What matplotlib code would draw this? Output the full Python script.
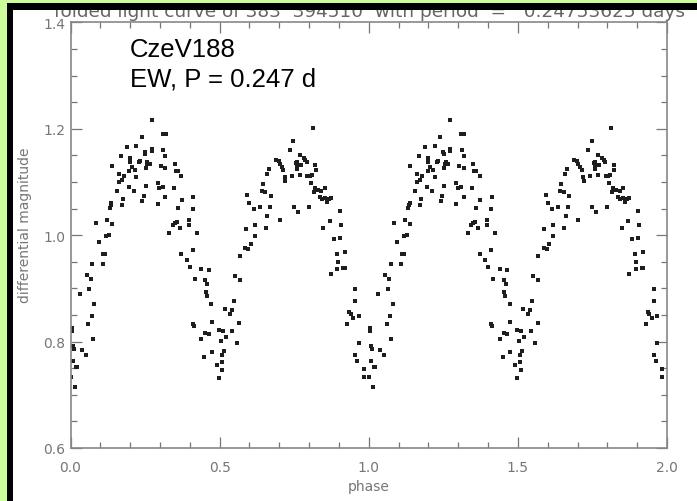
import numpy as np
from matplotlib import pyplot as plt
from matplotlib.patches import Rectangle

# folded light curve (one cycle, phase 0..1), plotted twice
phase = [0.032, 0.063, 0.056, 0.069, 0.073, 0.086, 0.096, 0.108, 0.110, 0.117,
         0.119, 0.128, 0.123, 0.139, 0.132, 0.135, 0.137, 0.139, 0.155, 0.163,
         0.162, 0.169, 0.173, 0.175, 0.173, 0.180, 0.189, 0.195, 0.197, 0.200,
         0.200, 0.206, 0.213, 0.216, 0.221, 0.221, 0.229, 0.233, 0.240, 0.241,
         0.246, 0.249, 0.251, 0.253, 0.253, 0.255, 0.258, 0.267, 0.273, 0.273,
         0.272, 0.292, 0.293, 0.298, 0.304, 0.309, 0.320, 0.311, 0.318, 0.309,
         0.318, 0.318, 0.331, 0.347, 0.351, 0.354, 0.359, 0.361, 0.343, 0.349,
         0.356, 0.367, 0.372, 0.372, 0.374, 0.390, 0.398, 0.398, 0.410, 0.410,
         0.412, 0.423, 0.401, 0.417, 0.439, 0.452, 0.459, 0.454, 0.457, 0.465,
         0.568, 0.552, 0.568, 0.586, 0.596, 0.588, 0.604, 0.618, 0.619, 0.593,
         0.600, 0.615, 0.635,
         0.080, 0.071, 0.060, 0.075, 0.039, 0.052, 0.012, 0.004, 0.005, 0.007,
         0.009, 0.017, 0.021, 0.000, 0.014,
         0.410, 0.414, 0.472, 0.474, 0.452, 0.465, 0.439, 0.449, 0.475, 0.498,
         0.510, 0.504, 0.521, 0.517, 0.534, 0.540, 0.548, 0.543, 0.566, 0.557,
         0.515, 0.507, 0.490, 0.508, 0.509, 0.497,
         0.655, 0.660, 0.669, 0.671, 0.642, 0.653, 0.646, 0.658, 0.665, 0.702,
         0.689, 0.698, 0.702, 0.709, 0.714, 0.718, 0.720, 0.736, 0.747, 0.743,
         0.749, 0.763, 0.756, 0.758, 0.758, 0.760, 0.769, 0.772, 0.769, 0.783,
         0.787, 0.792, 0.799, 0.794, 0.803, 0.810, 0.807, 0.813, 0.816, 0.819,
         0.821, 0.823, 0.830, 0.841, 0.852, 0.837, 0.843, 0.854, 0.859, 0.866,
         0.874, 0.848, 0.870, 0.883, 0.904, 0.906, 0.904, 0.893, 0.897, 0.919,
         0.895, 0.915, 0.921, 0.872, 0.955, 0.955, 0.935, 0.940, 0.948, 0.966,
         0.928, 0.968, 0.955, 0.962, 0.984, 0.984]
mag = [0.889, 0.898, 0.925, 0.918, 0.946, 1.023, 0.988, 0.945, 0.965, 0.965,
       0.998, 1.000, 1.029, 1.022, 1.051, 1.057, 1.061, 1.130, 1.084, 1.101,
       1.116, 1.149, 1.104, 1.068, 1.057, 1.112, 1.166, 1.091, 1.120, 1.137,
       1.145, 1.129, 1.083, 1.123, 1.168, 1.110, 1.138, 1.139, 1.185, 1.064,
       1.073, 1.156, 1.153, 1.092, 1.126, 1.134, 1.137, 1.134, 1.158, 1.163,
       1.217, 1.059, 1.098, 1.088, 1.131, 1.190, 1.191, 1.160, 1.149, 1.090,
       1.127, 1.071, 1.005, 1.088, 1.134, 1.121, 1.121, 1.051, 1.020, 1.023,
       1.025, 1.013, 1.111, 0.965, 1.066, 0.954, 1.019, 1.028, 0.972, 1.049,
       1.071, 1.005, 0.940, 0.918, 0.936, 0.915, 0.908, 0.894, 0.885, 0.935,
       0.961, 0.923, 0.916, 0.976, 0.975, 1.012, 0.983, 0.999, 1.020, 1.076,
       1.060, 1.049, 1.053,
       0.871, 0.849, 0.833, 0.804, 0.785, 0.775, 0.786, 0.825, 0.820, 0.792,
       0.764, 0.753, 0.753, 0.734, 0.714,
       0.834, 0.830, 0.870, 0.837, 0.817, 0.814, 0.804, 0.771, 0.781, 0.822,
       0.820, 0.802, 0.808, 0.861, 0.852, 0.859, 0.876, 0.820, 0.835, 0.797,
       0.783, 0.775, 0.756, 0.761, 0.746, 0.732,
       1.013, 1.036, 1.053, 1.074, 1.084, 1.082, 1.096, 1.116, 1.124, 1.029,
       1.141, 1.139, 1.134, 1.128, 1.123, 1.109, 1.102, 1.160, 1.177, 1.112,
       1.054, 1.044, 1.136, 1.138, 1.131, 1.124, 1.151, 1.133, 1.114, 1.145,
       1.141, 1.137, 1.054, 1.111, 1.111, 1.113, 1.099, 1.201, 1.082, 1.088,
       1.133, 1.123, 1.086, 1.083, 1.088, 1.072, 1.068, 1.070, 1.062, 1.068,
       1.070, 1.014, 1.027, 0.993, 1.045, 1.020, 0.995, 0.964, 0.950, 0.969,
       0.936, 0.939, 0.939, 0.928, 0.898, 0.877, 0.855, 0.852, 0.844, 0.849,
       0.834, 0.797, 0.775, 0.763, 0.748, 0.733]

phase = np.array(phase)
mag = np.array(mag)

gris = '#767676'

fig = plt.figure(figsize=(6.97, 5.02), dpi=100, facecolor='white')
ax = fig.add_axes([0.1012, 0.1056, 0.8558, 0.8476])

ax.plot(phase, mag, 's', color='#1e1e1e', ms=2.5, mew=0)
ax.plot(phase + 1, mag, 's', color='#1e1e1e', ms=2.5, mew=0)

ax.set_xlim(0, 2)
ax.set_ylim(0.6, 1.4)
ax.set_xticks([0.0, 0.5, 1.0, 1.5, 2.0])
ax.set_xticks(np.arange(0, 2.001, 0.1), minor=True)
ax.set_yticks([0.6, 0.8, 1.0, 1.2, 1.4])
ax.set_yticks(np.arange(0.6, 1.401, 0.05), minor=True)
ax.xaxis.set_major_formatter(plt.FormatStrFormatter('%.1f'))
ax.yaxis.set_major_formatter(plt.FormatStrFormatter('%.1f'))

ax.tick_params(which='both', direction='in', top=True, right=True,
               color=gris, labelcolor=gris, labelsize=10, width=0.9)
ax.tick_params(which='major', length=8)
ax.tick_params(which='minor', length=4.3)
ax.tick_params(axis='x', pad=9)
ax.tick_params(axis='y', pad=4)
for s in ax.spines.values():
    s.set_color('#888888')
    s.set_linewidth(1.2)

ax.set_xlabel('phase', color=gris, fontsize=10, labelpad=3)
fig.text(25 / 697, 1 - 225 / 502, 'differential magnitude', rotation=90,
         ha='center', va='center', color=gris, fontsize=10)

ax.text(130 / 697, 1 - 57 / 502, 'CzeV188', transform=fig.transFigure,
        family='Liberation Sans', fontsize=18.5, color='black', va='baseline')
ax.text(130 / 697, 1 - 87 / 502, 'EW, P = 0.247 d', transform=fig.transFigure,
        family='Liberation Sans', fontsize=18.5, color='black', va='baseline')

# titulo cortado por el borde
fig.text(369 / 697, 1 - 17 / 502,
         'folded light curve of 383  394510  with period  =   0.24753625 days',
         ha='center', va='baseline', color='#666666', fontsize=13.3)

# marco verde y negro
fig.patches.append(Rectangle((0, 0), 7 / 697, 1, transform=fig.transFigure,
                             facecolor='#ccff99', edgecolor='none', zorder=10))
fig.patches.append(Rectangle((0, 1 - 4 / 502), 1, 4 / 502, transform=fig.transFigure,
                             facecolor='#ccff99', edgecolor='none', zorder=10))
fig.patches.append(Rectangle((7 / 697, 0), 6 / 697, 1 - 4 / 502, transform=fig.transFigure,
                             facecolor='black', edgecolor='none', zorder=11))
fig.patches.append(Rectangle((7 / 697, 1 - 11 / 502), 1, 7 / 502, transform=fig.transFigure,
                             facecolor='black', edgecolor='none', zorder=11))

fig.savefig('out.png', dpi=100, facecolor='white')
